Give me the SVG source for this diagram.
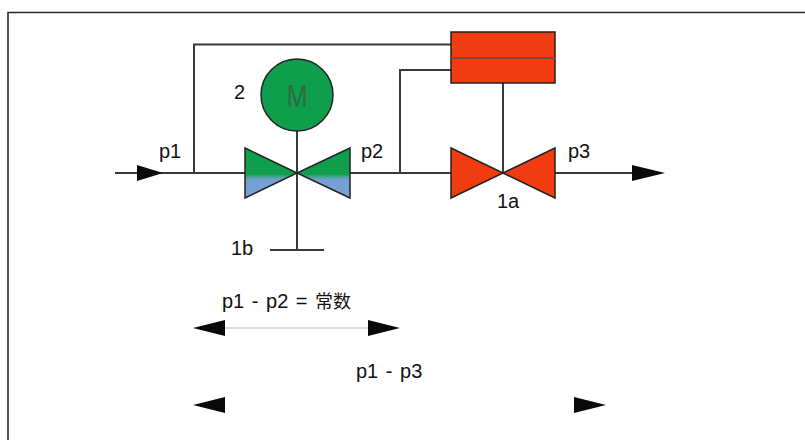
<svg xmlns="http://www.w3.org/2000/svg" width="805" height="440" viewBox="0 0 805 440">
<style>
.l{fill:none;stroke:#3a3a3a;stroke-width:2}
.o{stroke:#222;stroke-width:1.5;stroke-linejoin:miter}
.a{fill:#0a0a0a}
text{font-family:"Liberation Sans",Arial,"Noto Sans CJK SC",sans-serif;font-size:20px;fill:#111;word-spacing:2px}
.m{font-size:31px;fill:#2f6b42}
.c{font-size:18px}
</style>
<defs>
<linearGradient id="gb" x1="0" y1="0" x2="0" y2="1">
<stop offset="0.52" stop-color="#0e9e4c"/><stop offset="0.58" stop-color="#4aa592"/><stop offset="0.64" stop-color="#74a0d8"/><stop offset="1" stop-color="#7d9fc8"/>
</linearGradient>
</defs>
<rect width="805" height="440" fill="#fff"/>
<path d="M8 440V12.500H805" fill="none" stroke="#2a2a2a" stroke-width="1.600"/>
<g id="connectors">
<path class="l" d="M115 173H245M350 173H451M555 173H640"/>
<path class="l" d="M194 173V44.500H451"/>
<path class="l" d="M400 173V70H451"/>
<path class="l" d="M503 83V173"/>
<path class="l" d="M297 131V250M270 250H324"/>
<line x1="225" y1="328" x2="368" y2="328" stroke="#ddd" stroke-width="2"/>
<path class="a" d="M137 165L163 173L137 181Z"/>
<path class="a" d="M632 165L665 173L632 181Z"/>
<path class="a" d="M193 328L225 320V336Z"/>
<path class="a" d="M400 328L368 320V336Z"/>
<path class="a" d="M193 405L225 397V413Z"/>
<path class="a" d="M606 405L574 397V413Z"/>
</g>
<g id="motor">
<circle class="o" cx="297" cy="95" r="36" fill="#0e9e4c"/>
<text class="m" transform="translate(297 107) scale(.82 1)" text-anchor="middle">M</text>
</g>
<g id="valve-1b">
<path class="o" d="M245 148L297 173L245 198Z" fill="url(#gb)"/>
<path class="o" d="M350 148L297 173L350 198Z" fill="url(#gb)"/>
</g>
<g id="valve-1a">
<path class="o" d="M451 148L503 173L451 198Z" fill="#f03c10"/>
<path class="o" d="M555 148L503 173L555 198Z" fill="#f03c10"/>
</g>
<g id="controller">
<rect x="451" y="32" width="104" height="51" fill="#f03c10" stroke="#222" stroke-width="1.500"/>
<line x1="451" y1="58" x2="555" y2="58" stroke="#7a4a3a" stroke-width="1.800"/>
</g>
<g id="labels">
<text x="159" y="158">p1</text>
<text x="234" y="99">2</text>
<text x="361" y="158">p2</text>
<text x="568" y="158">p3</text>
<text x="497" y="208">1a</text>
<text x="231" y="255">1b</text>
<text x="222" y="308">p1 - p2 = <tspan class="c">常数</tspan></text>
<text x="356" y="378">p1 - p3</text>
</g>
</svg>
